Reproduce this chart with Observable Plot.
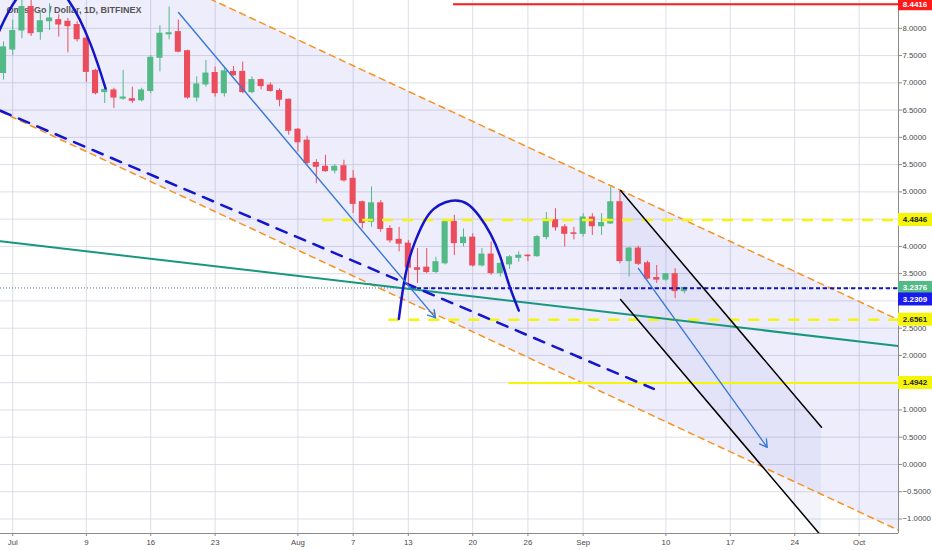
<!DOCTYPE html>
<html><head><meta charset="utf-8">
<script src="https://cdn.jsdelivr.net/npm/d3@7"></script>
<script src="https://cdn.jsdelivr.net/npm/@observablehq/plot@0.6"></script>
<style>
html,body{margin:0;padding:0;background:#fff;}
#chart{width:932px;height:550px;overflow:hidden;}
</style></head><body><div id="chart"></div>
<script>
// ---------- data ----------
const title = "OmiseGo / Dollar, 1D, BITFINEX";
const baseDate = "2018-07-01";      // day 0 of the x scale
const candleStart = "2018-06-30";   // first daily candle
const opens  = [7.18,7.61,7.96,8.39,7.93,8.13,8.15,8.12,8.06,7.81,7.22,6.83,6.86,6.71,6.70,6.68,6.85,7.46,7.89,7.93,7.58,6.73,6.97,7.18,6.81,7.20,7.20,6.83,7.05,6.95,6.85,6.69,6.14,5.94,5.53,5.46,5.39,5.47,5.24,4.81,4.45,4.79,4.32,4.12,4.05,3.60,3.61,3.53,3.69,4.45,4.06,4.16,3.65,3.85,3.51,3.67,3.79,3.83,3.82,4.17,4.48,4.35,4.24,4.23,4.53,4.37,4.42,4.81,3.73,3.96,3.69,3.42,3.39,3.49,3.18];
const highs  = [7.75,8.15,8.55,8.55,8.30,8.45,8.25,8.18,8.12,7.85,7.25,6.90,6.90,7.23,6.92,6.90,7.50,8.05,8.39,8.15,7.60,7.11,7.41,7.29,7.29,7.30,7.38,7.11,7.07,7.00,6.89,6.70,6.16,6.02,5.59,5.67,5.50,5.58,5.39,4.83,5.09,4.84,4.38,4.35,4.11,3.96,3.96,3.80,4.48,4.57,4.32,4.23,3.96,4.08,3.70,3.83,3.90,3.85,4.20,4.62,4.69,4.40,4.35,4.60,4.60,4.60,5.09,5.03,3.98,4.00,3.73,3.65,3.50,3.59,3.25];
const lows   = [7.05,7.50,7.81,7.85,7.78,7.96,7.84,7.55,7.75,7.01,6.78,6.62,6.53,6.68,6.62,6.65,6.80,7.20,7.79,7.55,6.70,6.65,6.92,6.74,6.74,7.12,6.80,6.80,6.87,6.83,6.56,6.04,5.73,5.49,5.15,5.36,5.33,5.18,4.60,4.32,4.35,4.26,4.06,3.90,3.30,3.32,3.50,3.50,3.66,3.83,3.99,3.62,3.62,3.47,3.44,3.58,3.71,3.72,3.80,4.12,4.28,3.99,4.12,4.17,4.20,4.20,4.40,3.68,3.44,3.65,3.39,3.32,3.36,3.04,3.13];
const closes = [7.65,7.95,8.39,7.91,8.13,8.18,8.07,8.04,7.80,7.20,6.81,6.87,6.73,6.73,6.67,6.86,7.46,7.90,7.91,7.57,6.73,6.97,7.17,6.81,7.21,7.14,6.83,7.05,6.94,6.85,6.69,6.12,5.91,5.53,5.46,5.38,5.46,5.21,4.78,4.43,4.79,4.32,4.11,4.05,3.61,3.57,3.53,3.71,4.45,4.06,4.16,3.65,3.85,3.51,3.68,3.80,3.83,3.82,4.17,4.49,4.35,4.23,4.23,4.53,4.37,4.43,4.81,3.73,3.96,3.68,3.41,3.39,3.49,3.18,3.2376];

const xTickDates  = ["2018-07-01","2018-07-09","2018-07-16","2018-07-23","2018-08-01","2018-08-07","2018-08-13","2018-08-20","2018-08-26","2018-09-01","2018-09-10","2018-09-17","2018-09-24","2018-10-01"];
const xTickLabels = ["Jul","9","16","23","Aug","7","13","20","26","Sep","10","17","24","Oct"];
const yTicks = [-1,-0.5,0,0.5,1,1.5,2,2.5,3,3.5,4,4.5,5,5.5,6,6.5,7,7.5,8];
const xDomain = [-1.33, 96.28];    // days since baseDate
const yDomain = [-1.266, 8.51];

// drawings (x in days since baseDate, y in price)
const channelDays  = [-1.33, 96.28];
const channelUpper = [10.33, 2.653];
const channelLower = [6.473, -1.206];
const blackDays  = [66.07, 87.91];
const blackUpper = [5.024, 0.684];
const blackLower = [3.024, -1.316];
const tealDays = [-1.33, 96.28];
const tealPrices = [4.094, 2.172];
const blueDashDays = [-1.33, 69.68];
const blueDashPrices = [6.488, 1.385];
const arc1Days   = [-1.87, 0.30, 3.18, 6.07, 8.46, 10.09];
const arc1Prices = [7.80, 8.51, 8.85, 8.51, 7.71, 6.90];
const arc2Days   = [41.97, 42.45, 43.05, 43.78, 44.68, 45.77, 47.04, 48.13, 49.40, 50.66, 51.93, 53.02, 53.92, 55.01];
const arc2Prices = [2.670, 3.250, 3.739, 4.106, 4.442, 4.688, 4.809, 4.840, 4.780, 4.565, 4.229, 3.800, 3.312, 2.822];
const arrowFromDays = [18.02, 68.02], arrowFromPrices = [8.29, 3.593];
const arrowToDays   = [45.96, 82.01], arrowToPrices   = [2.688, 0.314];
const redLevel = 8.4416, redStart = 47.91;
const yellowDashLevels = [4.4846, 2.6561], yellowDashStarts = [33.67, 40.88];
const yellowSolidLevel = 1.4942, yellowSolidStart = 53.93;
const navyLevel = 3.2309, navyStart = 43.24;
const lastPrice = 3.2376;

// ---------- build ----------
const toDay = s => (Date.parse(s) - Date.parse(baseDate)) / 864e5;
const firstDay = toDay(candleStart);
const candles = opens.map((o, i) => ({d: firstDay + i, open: o, high: highs[i], low: lows[i], close: closes[i], up: closes[i] >= o}));
const tickDays = xTickDates.map(toDay);
const tickLabel = new Map(tickDays.map((d, i) => [d, xTickLabels[i]]));
const pair = (xs, ys) => xs.map((x, i) => ({x, y: ys[i]}));
const channel = channelDays.map((x, i) => ({x, hi: channelUpper[i], lo: channelLower[i]}));
const blackCh = blackDays.map((x, i) => ({x, hi: blackUpper[i], lo: blackLower[i]}));
const arrows = arrowFromDays.map((x, i) => ({x1: x, y1: arrowFromPrices[i], x2: arrowToDays[i], y2: arrowToPrices[i]}));
const GREEN = "#53b987", RED = "#eb4d5c";
const halfBody = 0.33;
const FONT = "'Liberation Sans', Arial, sans-serif";

const plot = Plot.plot({
  width: 932, height: 550,
  marginTop: 0, marginBottom: 17, marginLeft: 0, marginRight: 34,
  style: {background: "#fff", fontFamily: FONT, fontSize: "7.8px", color: "#4a4a4a"},
  x: {type: "linear", domain: xDomain},
  y: {domain: yDomain},
  marks: [
    Plot.gridX(tickDays, {stroke: "#d6d6e2", strokeOpacity: 0.8}),
    Plot.gridY(yTicks, {stroke: "#d6d6e2", strokeOpacity: 0.8}),
    Plot.areaY(channel, {x: "x", y1: "lo", y2: "hi", fill: "#3434d2", fillOpacity: 0.085, clip: true}),
    Plot.areaY(blackCh, {x: "x", y1: "lo", y2: "hi", fill: "#3434d2", fillOpacity: 0.06, clip: true}),
    Plot.text([title], {frameAnchor: "top-left", dx: 6, dy: 6, fontSize: 9, fontWeight: "bold", fill: "#555", textAnchor: "start", lineAnchor: "top"}),
    // candles
    Plot.ruleX(candles, {x: "d", y1: "low", y2: "high", stroke: d => d.up ? GREEN : RED, strokeWidth: 1}),
    Plot.rect(candles, {x1: d => d.d - halfBody, x2: d => d.d + halfBody, y1: "open", y2: "close", fill: d => d.up ? GREEN : RED, insetTop: -0.5, insetBottom: -0.5}),
    // last price dotted line
    Plot.ruleY([lastPrice], {stroke: "#4f7d8c", strokeDasharray: "1,2", strokeWidth: 1}),
    // channel borders
    Plot.line(pair(channelDays, channelUpper), {x: "x", y: "y", stroke: "#f7931e", strokeWidth: 1.5, strokeDasharray: "6,5", clip: true}),
    Plot.line(pair(channelDays, channelLower), {x: "x", y: "y", stroke: "#f7931e", strokeWidth: 1.5, strokeDasharray: "6,5", clip: true}),
    // horizontal levels
    Plot.ruleY([redLevel], {x1: redStart, x2: xDomain[1], stroke: "#ff1a1a", strokeWidth: 2}),
    Plot.ruleY(yellowDashLevels, {y: d => d, x1: (d, i) => yellowDashStarts[i], x2: xDomain[1], stroke: "#f5f50a", strokeWidth: 2.5, strokeDasharray: "11,9"}),
    Plot.ruleY([yellowSolidLevel], {x1: yellowSolidStart, x2: xDomain[1], stroke: "#f5f50a", strokeWidth: 2}),
    Plot.ruleY([navyLevel], {x1: navyStart, x2: xDomain[1], stroke: "#1616b8", strokeWidth: 2, strokeDasharray: "4,3"}),
    // trend lines
    Plot.line(pair(tealDays, tealPrices), {x: "x", y: "y", stroke: "#18977f", strokeWidth: 2, clip: true}),
    Plot.line(pair(blueDashDays, blueDashPrices), {x: "x", y: "y", stroke: "#1515cc", strokeWidth: 2.5, strokeDasharray: "11,9", clip: true}),
    Plot.line(pair(blackDays, blackUpper), {x: "x", y: "y", stroke: "#000", strokeWidth: 1.5, clip: true}),
    Plot.line(pair(blackDays, blackLower), {x: "x", y: "y", stroke: "#000", strokeWidth: 1.5, clip: true}),
    // arcs
    Plot.line(pair(arc1Days, arc1Prices), {x: "x", y: "y", curve: "natural", stroke: "#1414c8", strokeWidth: 2.5, clip: true}),
    Plot.line(pair(arc2Days, arc2Prices), {x: "x", y: "y", curve: "natural", stroke: "#1414c8", strokeWidth: 2.5, clip: true}),
    // arrows
    Plot.arrow(arrows, {x1: "x1", y1: "y1", x2: "x2", y2: "y2", stroke: "#3a78d6", strokeWidth: 1.4, headLength: 9}),
    // axes
    Plot.ruleX([xDomain[1]], {stroke: "#8a8a8a", strokeWidth: 1}),
    Plot.ruleY([yDomain[0]], {stroke: "#8a8a8a", strokeWidth: 1}),
    Plot.axisX({ticks: tickDays, tickFormat: d => tickLabel.get(d), tickSize: 3, tickPadding: 3, label: null, stroke: "#8a8a8a", fill: "#4a4a4a"}),
    Plot.axisY({anchor: "right", ticks: yTicks, tickFormat: d3.format(".4f"), tickSize: 3, tickPadding: 1, label: null, stroke: "#8a8a8a", fill: "#4a4a4a"})
  ]
});

// price tags on the right axis
const tags = [
  {v: redLevel, bg: "#ff1a1a", fg: "#fff"},
  {v: yellowDashLevels[0], bg: "#f5f50a", fg: "#222"},
  {v: lastPrice, bg: GREEN, fg: "#fff"},
  {v: navyLevel, bg: "#1a1aee", fg: "#fff"},
  {v: yellowDashLevels[1], bg: "#f5f50a", fg: "#222"},
  {v: yellowSolidLevel, bg: "#f5f50a", fg: "#222"}
];
const ys = plot.scale("y");
const placed = tags.map(t => ({...t, cy: ys.apply(t.v)})).sort((a, b) => a.cy - b.cy);
for (let i = 1; i < placed.length; i++) {
  if (placed[i].cy - placed[i - 1].cy < 11.5) placed[i].cy = placed[i - 1].cy + 11.5;
}
const x0 = 932 - 34;
const g = d3.select(plot).append("g");
placed.forEach(t => {
  g.append("rect").attr("x", x0).attr("y", t.cy - 6.5).attr("width", 34).attr("height", 13).attr("fill", t.bg);
  g.append("text").attr("x", x0 + 17).attr("y", t.cy).attr("dy", "0.35em").attr("text-anchor", "middle")
    .attr("fill", t.fg).attr("font-size", 8).attr("font-weight", "bold")
    .attr("font-family", FONT).text(d3.format(".4f")(t.v));
});
document.getElementById("chart").append(plot);
</script>
</body></html>
